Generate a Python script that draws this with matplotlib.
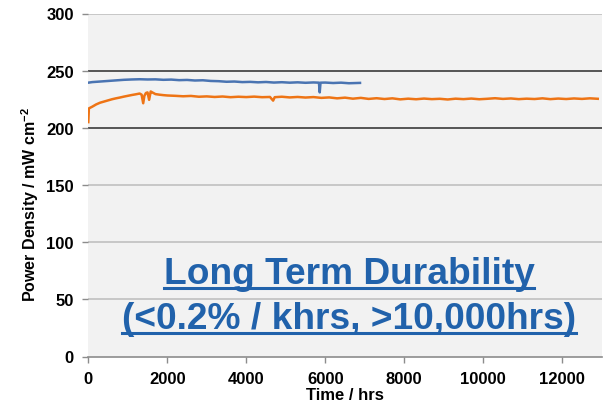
import matplotlib
matplotlib.use("Agg")
import matplotlib.pyplot as plt
from matplotlib.lines import Line2D

plt.rcParams["mathtext.fontset"] = "custom"
plt.rcParams["mathtext.rm"] = "Liberation Sans:bold"
plt.rcParams["mathtext.it"] = "Liberation Sans:bold"
plt.rcParams["mathtext.bf"] = "Liberation Sans:bold"
plt.rcParams["axes.unicode_minus"] = False

# ---- data ----
orange_t = [0, 15, 100, 200, 300, 400, 500, 600, 700, 800, 900, 1000, 1100, 1200, 1300, 1350,
            1390, 1420, 1460, 1500, 1540, 1580, 1620, 1700, 1800, 1900, 2000, 2200, 2400, 2600,
            2800, 3000, 3200, 3400, 3600, 3800, 4000, 4200, 4400, 4600, 4680, 4720, 4900, 5100,
            5300, 5500, 5700, 5900, 6100, 6300, 6500, 6700, 6900, 7100, 7300, 7500, 7700, 7900,
            8100, 8300, 8500, 8700, 8900, 9100, 9300, 9500, 9700, 9900, 10100, 10300, 10500,
            10700, 10900, 11100, 11300, 11500, 11700, 11900, 12100, 12300, 12500, 12700, 12900]
orange_v = [205, 217, 218.5, 220.5, 222, 223, 224, 225, 225.8, 226.5, 227.3, 228, 228.7, 229.3, 230, 229,
            221.5, 228, 230.5, 231, 224.5, 231.8, 231, 229.5, 229, 228.6, 228.3, 228, 227.6, 227.9,
            227.2, 227.5, 227, 227.4, 226.8, 227.2, 226.9, 227.3, 226.8, 227, 223.8, 226.8, 227.2, 226.6,
            227, 226.5, 226.9, 226.2, 226.6, 225.8, 226.4, 225.5, 226.2, 225.3, 225.9, 225.2, 225.8, 224.9,
            225.5, 225, 225.6, 225.1, 225.4, 224.8, 225.5, 225.1, 225.6, 225, 225.4, 225.9, 225.3,
            225.7, 225.1, 225.5, 225.2, 225.8, 225.1, 225.6, 225.2, 225.7, 225.3, 225.8, 225.4]

blue_t = [0, 100, 300, 500, 700, 900, 1100, 1300, 1500, 1700, 1900, 2100, 2300, 2500, 2700, 2900,
          3100, 3300, 3500, 3700, 3900, 4100, 4300, 4500, 4700, 4900, 5100, 5300, 5500, 5700,
          5840, 5860, 5880, 6000, 6200, 6400, 6600, 6880]
blue_v = [239.5, 240, 240.5, 241, 241.5, 242, 242.3, 242.5, 242.3, 242.4, 242, 242.2, 241.7, 241.9,
          241.4, 241.6, 241, 240.8, 240.3, 240.5, 240, 240.2, 239.8, 240.1, 239.6, 239.9, 239.5, 239.8,
          239.4, 239.7, 239.5, 231, 239.5, 239.6, 239.2, 239.5, 239, 239.3]

x_ticks = [0, 2000, 4000, 6000, 8000, 10000, 12000]
y_ticks = [0, 50, 100, 150, 200, 250, 300]
title_lines = ["Long Term Durability", "(<0.2% / khrs, >10,000hrs)"]

# ---- figure ----
W, H = 612, 402
fig = plt.figure(figsize=(W / 100, H / 100), dpi=100)
fig.patch.set_facecolor("white")
L, R, T, B = 88.3, 601.7, 14.5, 357.5
ax = fig.add_axes([L / W, 1 - B / H, (R - L) / W, (B - T) / H])
ax.set_facecolor("#f2f2f2")

font = "Liberation Sans"

# gridlines
for yv in [50, 100, 150, 300]:
    ax.axhline(yv, color="#c4c4c4", lw=1.3, zorder=1)
for yv in [200, 250]:
    ax.axhline(yv, color="#2b2b2b", lw=1.1, zorder=1)

ax.plot(blue_t, blue_v, color="#4a74b2", lw=1.8, zorder=3)
ax.plot(orange_t, orange_v, color="#ee7415", lw=1.8, zorder=3)

ax.set_xlim(0, 13000)
ax.set_ylim(0, 300)
ax.set_xticks(x_ticks)
ax.set_yticks(y_ticks)
ax.set_xticklabels([str(v) for v in x_ticks], fontfamily=font, fontweight="bold", fontsize=12)
ax.set_yticklabels([str(v) for v in y_ticks], fontfamily=font, fontweight="bold", fontsize=12)
ax.tick_params(axis="both", direction="out", length=4, width=1, color="#8c8c8c", pad=6.5)

for s in ["top", "right", "left"]:
    ax.spines[s].set_visible(False)
ax.spines["bottom"].set_color("#8c8c8c")
ax.spines["bottom"].set_linewidth(1.2)
ax.spines["bottom"].set_zorder(4)

ax.set_xlabel("Time / hrs", fontfamily=font, fontweight="bold", fontsize=12, labelpad=1)
fig.text(30 / W, 1 - 205 / H, "Power Density / mW cm$^{-2}$", rotation=90,
         ha="center", va="center", fontfamily=font, fontweight="bold", fontsize=11.5)

# big annotation text with underline
blue_txt = "#2162ab"
baselines = [284, 329]
texts = []
for line, yb in zip(title_lines, baselines):
    t = fig.text(349 / W, 1 - yb / H, line, ha="center", va="baseline", color=blue_txt,
                 fontfamily=font, fontweight="bold", fontsize=26.7, zorder=5)
    texts.append((t, yb))

fig.canvas.draw()
r = fig.canvas.get_renderer()
for t, yb in texts:
    bb = t.get_window_extent(r)
    yu = 1 - (yb + 4.8) / H
    fig.add_artist(Line2D([bb.x0 / W, bb.x1 / W], [yu, yu], transform=fig.transFigure,
                          color=blue_txt, lw=2.2, zorder=5))

fig.savefig("out.png", dpi=100)
